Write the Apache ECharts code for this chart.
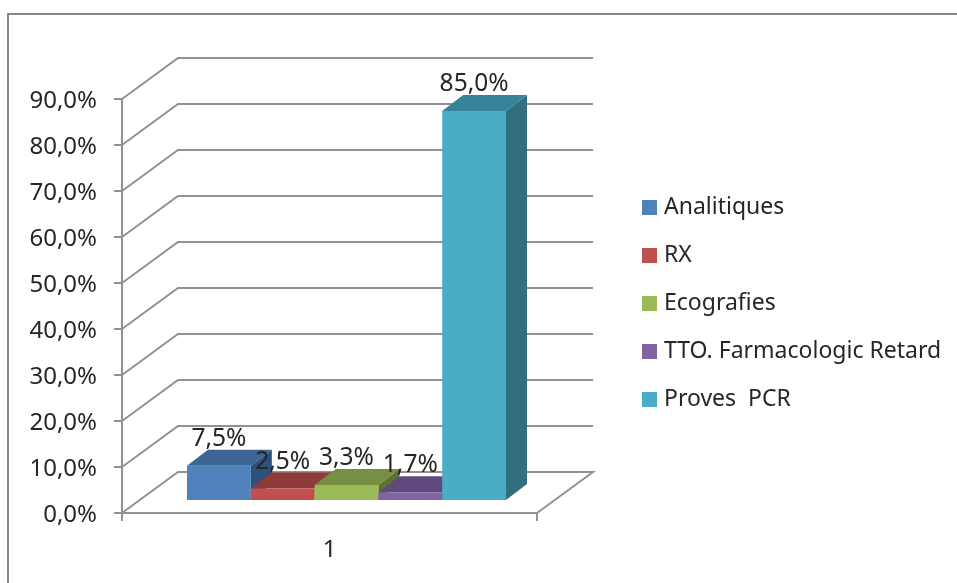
<!DOCTYPE html>
<html>
<head>
<meta charset="utf-8">
<style>html,body{margin:0;padding:0;background:#fff}#c{width:957px;height:583px}</style>
<script src="https://cdn.jsdelivr.net/npm/echarts@6/dist/echarts.min.js"></script>
</head>
<body>
<div id="c"></div>
<script>
var categories = ['1'];
var tickValues = [0, 10, 20, 30, 40, 50, 60, 70, 80, 90];
var seriesNames = ['Analitiques', 'RX', 'Ecografies', 'TTO. Farmacologic Retard', 'Proves  PCR'];
var analitiques = [7.5];
var rx = [2.5];
var ecografies = [3.3];
var ttoRetard = [1.7];
var provesPcr = [85.0];
var seriesValues = [analitiques, rx, ecografies, ttoRetard, provesPcr];
var frontColors = ['#4F81BD', '#C0504D', '#9BBB59', '#8064A2', '#4BACC6'];
var topColors = ['#3D6594', '#8F3B39', '#768F42', '#604A7B', '#37849A'];
var sideColors = ['#2F5078', '#73302E', '#5C7232', '#4D3C62', '#316F80'];

var FONT = '"Noto Sans", sans-serif';
var TEXT = '#262626';
var LINE = '#929292';
var wallDX = 56, wallDY = -41;
var barDX = 21, barDY = -16;
var floorDX = 65, floorDY = -13;
var barW = 63.8;
var barScale = 0.995;

function fmt(v) { return v.toFixed(1).replace('.', ',') + '%'; }

function renderWall(params, api) {
  var p = api.coord([0, api.value(1)]);
  var band = api.size([1, 0])[0];
  var xl = p[0] - band / 2, xr = p[0] + band / 2, y = p[1];
  var pts = [[xl, y], [xl + wallDX, y + wallDY], [xr + wallDX, y + wallDY]];
  if (api.value(1) === 0) pts.push([xr, y]);
  return {
    type: 'polyline',
    shape: { points: pts },
    style: { stroke: LINE, lineWidth: 2, fill: null }
  };
}

function renderBar(idx) {
  return function (params, api) {
    var v = api.value(1);
    var c = api.coord([0, v]);
    var b = api.coord([0, 0]);
    var band = api.size([1, 0])[0];
    var x0 = c[0] - band / 2 + floorDX + barW * idx;
    var x1 = x0 + barW;
    var yb = b[1] + floorDY;
    var yt = yb - (b[1] - c[1]) * barScale;
    var z = 10 + idx;
    return {
      type: 'group',
      children: [
        { type: 'polygon', z2: z, shape: { points: [[x1, yb], [x1 + barDX, yb + barDY], [x1 + barDX, yt + barDY], [x1, yt]] }, style: { fill: sideColors[idx] } },
        { type: 'polygon', z2: z, shape: { points: [[x0, yt], [x1, yt], [x1 + barDX, yt + barDY], [x0 + barDX, yt + barDY]] }, style: { fill: topColors[idx] } },
        { type: 'rect', z2: z, shape: { x: x0, y: yt, width: barW, height: yb - yt }, style: { fill: frontColors[idx] } },
        { type: 'text', z2: 100, style: { text: fmt(v), x: (x0 + x1) / 2, y: yt - 27, align: 'center', verticalAlign: 'middle', font: '24.5px ' + FONT, fill: TEXT } }
      ]
    };
  };
}

var series = [{
  type: 'custom',
  name: 'walls',
  z: 1,
  silent: true,
  renderItem: renderWall,
  encode: { x: 0, y: 1 },
  data: tickValues.map(function (t) { return [0, t]; })
}];
seriesNames.forEach(function (n, i) {
  series.push({
    type: 'custom',
    name: n,
    z: 3,
    silent: true,
    itemStyle: { color: frontColors[i] },
    renderItem: renderBar(i),
    encode: { x: 0, y: 1 },
    data: seriesValues[i].map(function (v, k) { return [k, v]; })
  });
});

var chart = echarts.init(document.getElementById('c'), null, { renderer: 'canvas' });
chart.setOption({
  animation: false,
  backgroundColor: '#fff',
  grid: { left: 122, top: 99, width: 415, height: 414 },
  xAxis: {
    type: 'category',
    data: categories,
    axisLine: { lineStyle: { color: LINE, width: 2 } },
    axisTick: { show: true, length: 8, lineStyle: { color: LINE, width: 2 } },
    axisLabel: { margin: 25, fontSize: 24, fontFamily: FONT, color: TEXT }
  },
  yAxis: {
    type: 'value',
    min: 0,
    max: 90,
    interval: 10,
    splitLine: { show: false },
    axisLine: { show: true, lineStyle: { color: LINE, width: 2 } },
    axisTick: { show: true, length: 8, lineStyle: { color: LINE, width: 2 } },
    axisLabel: {
      margin: 25,
      formatter: function (v) { return '{a|' + fmt(v) + '}'; },
      rich: { a: { fontSize: 24, fontFamily: FONT, color: TEXT, padding: [4, 0, 0, 0] } }
    }
  },
  legend: {
    orient: 'vertical',
    left: 642,
    top: 196,
    data: seriesNames,
    icon: 'rect',
    itemWidth: 15,
    itemHeight: 15,
    itemGap: 25,
    selectedMode: false,
    padding: 0,
    textStyle: { fontSize: 23, fontFamily: FONT, color: TEXT, padding: [0, 0, 0, 2], lineHeight: 22, height: 22 }
  },
  graphic: [{
    type: 'polyline',
    z: 0,
    silent: true,
    shape: { points: [[8, 583], [8, 14], [957, 14]] },
    style: { stroke: '#868686', lineWidth: 2, fill: null }
  }],
  series: series
});
</script>
</body>
</html>
